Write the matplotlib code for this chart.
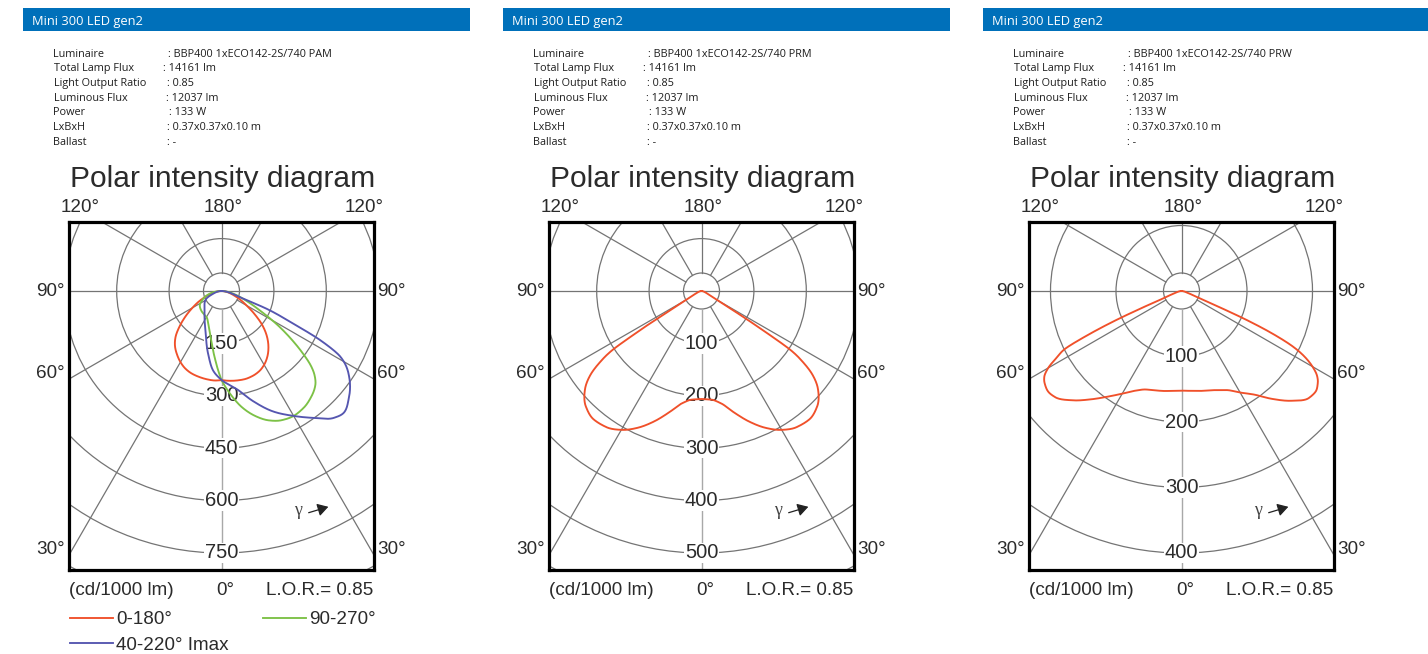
import numpy as np
import matplotlib
matplotlib.use("Agg")
import matplotlib.pyplot as plt
from matplotlib.patches import Rectangle, Circle, FancyArrowPatch

W, H = 1428, 654

# ---- text content -------------------------------------------------------
header_text = "Mini 300 LED gen2"
info_labels = ["Luminaire", "Total Lamp Flux", "Light Output Ratio",
               "Luminous Flux", "Power", "LxBxH", "Ballast"]
luminaire_names = ["BBP400 1xECO142-2S/740 PAM",
                   "BBP400 1xECO142-2S/740 PRM",
                   "BBP400 1xECO142-2S/740 PRW"]
lamp_flux = "14161 lm"
light_output_ratio = "0.85"
luminous_flux = "12037 lm"
power = "133 W"
dimensions = "0.37x0.37x0.10 m"
ballast = "-"

# ring spacing (cd/1000 lm) and number of labelled rings for each diagram
ring_steps = [150, 100, 100]
ring_labels_count = [5, 5, 4]

# ---- luminous intensity data (cd/1000 lm), gamma in degrees ------------
# PAM: three C-plane pairs
pam_gamma_c0 = [0, 5, 10, 15, 20, 25, 30, 35, 40, 45, 50, 55, 60, 65, 70, 80, 90]
pam_c0 = [255, 258, 260, 261, 259, 254, 244, 229, 209, 184, 153, 116, 83, 60, 40, 16, 0]
pam_gamma_c180 = [0, 5, 10, 15, 20, 25, 30, 35, 40, 45, 50, 55, 60, 65, 70, 80, 90]
pam_c180 = [255, 257, 256, 254, 251, 245, 235, 222, 207, 186, 156, 125, 96, 72, 50, 20, 0]

pam_gamma_c90 = [0, 5, 10, 15, 20, 25, 30, 35, 40, 45, 48, 50, 53, 55, 58, 63, 68, 72, 80, 90]
pam_c90 = [255, 297, 338, 370, 394, 408, 413, 409, 398, 380, 358, 335, 285, 250, 200, 125, 80, 56, 25, 0]
pam_gamma_c270 = [0, 2, 6, 12, 19, 30, 45, 56, 67, 77, 90]
pam_c270 = [255, 232, 190, 143, 110, 86, 81, 75, 57, 35, 0]

pam_gamma_c40 = [0, 9, 16, 23, 30, 36, 41.5, 45, 50, 56, 61, 63.5, 65.5, 68.5, 70.5, 80, 90]
pam_c40 = [255, 285, 328, 374, 413, 449, 485, 494, 476, 441, 390, 317, 227, 139, 66, 20, 0]
pam_gamma_c220 = [0, 6, 12, 22, 41, 63, 72, 90]
pam_c220 = [255, 229, 184, 122, 74, 49, 25, 0]

# PRM: symmetric distribution
prm_gamma = [0, 5, 10, 15, 20, 25, 30, 35, 40, 45, 50, 53, 55, 56.5, 57.5, 59, 62, 75, 90]
prm_c0 = [206, 208, 218, 240, 265, 288, 306, 317, 320, 312, 290, 265, 236, 203, 135, 57, 20, 5, 0]

# PRW: wide distribution
prw_gamma = [0, 5, 10, 15, 20, 25, 30, 35, 40, 45, 50, 53, 56, 58, 60, 62, 63.5, 65, 66, 67, 68, 75, 90]
prw_c0 = [152, 153, 155, 157, 161, 167, 179, 193, 215, 237, 254, 256, 251, 244, 231, 212, 190, 150, 110, 60, 30, 8, 0]
prw_c180 = [152, 153, 155, 157, 160, 168, 181, 197, 216, 236, 252, 255, 252, 247, 235, 215, 200, 152, 110, 60, 30, 8, 0]

RED = "#f0502a"
GREEN = "#7cc146"
BLUE = "#5556b0"
GRID = "#747474"
TXT = "#2b2b2b"
BAR = "#0070ba"

panels = [
    [("0-180°", RED, (pam_gamma_c0, pam_c0), (pam_gamma_c180, pam_c180)),
     ("90-270°", GREEN, (pam_gamma_c90, pam_c90), (pam_gamma_c270, pam_c270)),
     ("40-220° Imax", BLUE, (pam_gamma_c40, pam_c40), (pam_gamma_c220, pam_c220))],
    [("0-180°", RED, (prm_gamma, prm_c0), (prm_gamma, prm_c0))],
    [("0-180°", RED, (prw_gamma, prw_c0), (prw_gamma, prw_c180))],
]

# pixel scale (px per ring step)
px_per_step = [52.4, 52.4, 65.5]

SANS = ["Liberation Sans", "DejaVu Sans"]
INFO_FONT = ["Open Sans", "DejaVu Sans"]
LABEL_FS = 13.6

fig = plt.figure(figsize=(W / 100, H / 100), dpi=100)
fig.patch.set_facecolor("white")


def fx(x):
    return x / W


def fy(y):
    return 1 - y / H


def ftext(x, y, s, **kw):
    kw.setdefault("color", TXT)
    kw.setdefault("family", SANS)
    fig.text(fx(x), fy(y), s, **kw)


def pchip(xk, yk, x):
    """Monotone piecewise cubic Hermite interpolation."""
    xk = np.asarray(xk, float)
    yk = np.asarray(yk, float)
    h = np.diff(xk)
    d = np.diff(yk) / h
    m = np.zeros_like(yk)
    m[0], m[-1] = d[0], d[-1]
    for i in range(1, len(xk) - 1):
        if d[i - 1] * d[i] > 0:
            w1 = 2 * h[i] + h[i - 1]
            w2 = h[i] + 2 * h[i - 1]
            m[i] = (w1 + w2) / (w1 / d[i - 1] + w2 / d[i])
    idx = np.clip(np.searchsorted(xk, x) - 1, 0, len(xk) - 2)
    t = (x - xk[idx]) / h[idx]
    h00 = 2 * t**3 - 3 * t**2 + 1
    h10 = t**3 - 2 * t**2 + t
    h01 = -2 * t**3 + 3 * t**2
    h11 = t**3 - t**2
    return (h00 * yk[idx] + h10 * h[idx] * m[idx]
            + h01 * yk[idx + 1] + h11 * h[idx] * m[idx + 1])


def curve_xy(right, left):
    g = np.linspace(0, 90, 1441)
    ir = pchip(right[0], right[1], g)
    il = pchip(left[0], left[1], g)
    gr = np.radians(g)
    xr, yr = ir * np.sin(gr), -ir * np.cos(gr)
    xl, yl = -il * np.sin(gr), -il * np.cos(gr)
    x = np.concatenate([xl[::-1], xr])
    y = np.concatenate([yl[::-1], yr])
    return x, y


for k in range(3):
    dx = 480 * k
    # header bar
    bar_right = 470 + dx if k < 2 else W
    fig.add_artist(Rectangle((fx(22.5 + dx), fy(31)), fx(bar_right - 22.5 - dx), 23 / H,
                             transform=fig.transFigure, color=BAR, lw=0, zorder=0))
    ftext(32 + dx, 24.5, header_text, color="white", fontsize=9.3,
          family=INFO_FONT, va="baseline")

    # product information block
    values = [luminaire_names[k], lamp_flux, light_output_ratio, luminous_flux,
              power, dimensions, ballast]
    colon_x = [168.3, 163.3, 166.7, 165.7, 169, 167.3, 167.3]
    for i, (lab, val) in enumerate(zip(info_labels, values)):
        yb = 56.8 + 14.65 * i
        ftext(53.5 + dx, yb, lab, fontsize=7.8, family=INFO_FONT, va="baseline", color="#1e1e1e")
        ftext(colon_x[i] + dx, yb, ": " + val, fontsize=7.8, family=INFO_FONT,
              va="baseline", color="#1e1e1e")

    # title
    ftext(222.5 + dx, 187, "Polar intensity diagram", fontsize=21.6, ha="center", va="baseline")

    # diagram box
    bl, br, bt, bb = 68.5 + dx, 373.5 + dx, 221.5, 570
    cx, cy = 221.5 + dx, 291
    s = ring_steps[k] / px_per_step[k]
    ax = fig.add_axes([fx(bl), fy(bb), (br - bl) / W, (bb - bt) / H])
    ax.set_xlim((bl - cx) * s, (br - cx) * s)
    ax.set_ylim((cy - bb) * s, (cy - bt) * s)
    ax.set_xticks([])
    ax.set_yticks([])
    for sp in ax.spines.values():
        sp.set_linewidth(2.3)
        sp.set_color("black")
        sp.set_zorder(10)

    big = 2000
    r0 = 18 * s
    # rings
    for n in range(1, 8):
        ax.add_patch(Circle((0, 0), n * ring_steps[k], fill=False, ec=GRID, lw=0.9, zorder=1))
    ax.add_patch(Circle((0, 0), r0, fill=False, ec=GRID, lw=0.9, zorder=1))
    # radial lines
    for gdeg in [30, 60, 120, 150]:
        g = np.radians(gdeg)
        for sd in (-1, 1):
            ax.plot([sd * r0 * np.sin(g), sd * big * np.sin(g)],
                    [-r0 * np.cos(g), -big * np.cos(g)], color=GRID, lw=0.9, zorder=1)
    ax.plot([0, 0], [r0, big], color=GRID, lw=0.9, zorder=1)
    ax.plot([-big, big], [0, 0], color=GRID, lw=0.9, zorder=1)
    ax.plot([0, 0], [-r0, -big], color="#a8a8a8", lw=1.0, zorder=1)

    # ring labels
    for n in range(1, ring_labels_count[k] + 1):
        r = n * ring_steps[k]
        ax.text(0, -r, f"{r}", ha="center", va="center", fontsize=14.5, color=TXT,
                family=SANS, zorder=2,
                bbox=dict(fc="white", ec="none", pad=0.4))

    # intensity curves
    for name, col, right, left in panels[k]:
        x, y = curve_xy(right, left)
        ax.plot(x, y, color=col, lw=1.35, zorder=5, solid_joinstyle="round")

    # angle labels
    ftext(80 + dx, 212, "120°", fontsize=LABEL_FS, ha="center", va="baseline")
    ftext(223 + dx, 212, "180°", fontsize=LABEL_FS, ha="center", va="baseline")
    ftext(364 + dx, 212, "120°", fontsize=LABEL_FS, ha="center", va="baseline")
    for lab, yb in [("90°", 295.5), ("60°", 378.5), ("30°", 554.5)]:
        ftext(bl - 4, yb, lab, fontsize=LABEL_FS, ha="right", va="baseline")
        ftext(br + 4, yb, lab, fontsize=LABEL_FS, ha="left", va="baseline")

    # footer labels
    ftext(69 + dx, 595, "(cd/1000 lm)", fontsize=LABEL_FS, ha="left", va="baseline")
    ftext(225 + dx, 595, "0°", fontsize=LABEL_FS, ha="center", va="baseline")
    ftext(373.5 + dx, 595, "L.O.R.= 0.85", fontsize=LABEL_FS, ha="right", va="baseline")

    # gamma direction marker
    ftext(298 + dx, 515, "γ", fontsize=13, ha="center", va="baseline", color="#444444",
          family=["Liberation Serif", "DejaVu Serif"])
    fig.add_artist(FancyArrowPatch(
        (fx(306 + dx), fy(513.5)), (fx(331 + dx), fy(506)), transform=fig.transFigure,
        arrowstyle="-|>,head_length=4,head_width=2.4", mutation_scale=1.6,
        color="#222222", lw=0.9))

    # legend (only for the multi-plane diagram)
    if len(panels[k]) > 1:
        spots = [(70, 618), (263, 618), (70, 643)]
        for (name, col, _, _), (lx, ly) in zip(panels[k], spots):
            fig.add_artist(plt.Line2D([fx(lx + dx), fx(lx + 43 + dx)], [fy(ly), fy(ly)],
                                      transform=fig.transFigure, color=col, lw=1.35))
            ftext(lx + 46 + dx, ly + 6.5, name, fontsize=LABEL_FS, ha="left", va="baseline")

fig.savefig("out.png", dpi=100, facecolor="white")
